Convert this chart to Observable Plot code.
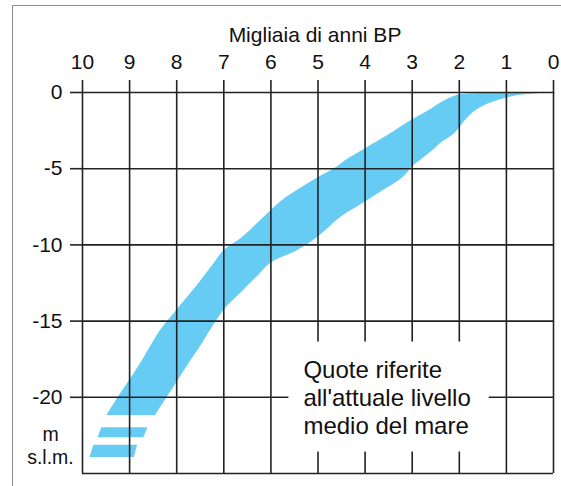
<!DOCTYPE html>
<html>
<head>
<meta charset="utf-8">
<script src="https://cdn.jsdelivr.net/npm/d3@7"></script>
<script src="https://cdn.jsdelivr.net/npm/@observablehq/plot@0.6"></script>
<style>
  html, body { margin: 0; padding: 0; background: #fff; }
  #wrap { position: relative; width: 561px; height: 486px; overflow: hidden; }
  #frame { position: absolute; left: 12px; top: 5px; right: 0; bottom: 0;
           border-left: 1px solid #8c8c8c; border-top: 1px solid #8c8c8c; }
  #chart { position: absolute; left: 0; top: 0; }
</style>
</head>
<body>
<div id="wrap"><div id="frame"></div><div id="chart"></div></div>
<script>
// Thousands of years before present (top axis, read right to left)
const ageTicks = [0, 1, 2, 3, 4, 5, 6, 7, 8, 9, 10];
// Depth in metres relative to present mean sea level
const depthTicks = [0, -5, -10, -15, -20];
const depthBottom = -25;

// Sea-level band: at each depth, the older (shallow) edge and the younger (deep) edge
const bandDepth   = [0, -0.05, -0.1, -0.2, -0.7, -1.2, -1.8, -2.7, -3.3, -3.7, -4.4, -4.9, -5.6, -6.55, -7.2, -8.2, -9.5, -10.4, -11.2, -12.0, -13.0, -14.3, -15.6, -16.7, -17.6, -18.8, -20.0, -21.2];
const bandOlder   = [0, 1.0, 1.8, 2.05, 2.4, 2.65, 3.0, 3.46, 3.78, 4.0, 4.38, 4.6, 5.0, 5.5, 5.8, 6.15, 6.6, 7.0, 7.2, 7.4, 7.65, 8.0, 8.34, 8.56, 8.73, 8.98, 9.24, 9.48];
const bandYounger = [0, 0.2, 0.4, 0.75, 1.35, 1.65, 1.86, 2.1, 2.38, 2.52, 2.8, 3.0, 3.2, 3.67, 4.0, 4.52, 5.0, 5.45, 6.0, 6.26, 6.58, 7.0, 7.28, 7.5, 7.7, 7.95, 8.2, 8.45];

// Dashed continuation below the band: two slanted strips
const stripTop           = [-22.0, -23.15];
const stripBottom        = [-22.65, -23.95];
const stripOlderTop      = [9.59, 9.76];
const stripOlderBottom   = [9.67, 9.84];
const stripYoungerTop    = [8.61, 8.83];
const stripYoungerBottom = [8.70, 8.90];

const xTitle = "Migliaia di anni BP";
const unitLabel = "m\ns.l.m.";
const noteText = "Quote riferite\nall'attuale livello\nmedio del mare";
const noteAge = 5.31, noteDepth = -17.4;

const blue = "#66ccf4";
const ink = "#222";
const textInk = "#111";
const font = "'Liberation Sans', Arial, Helvetica, sans-serif";

const band = bandDepth.map((d, i) => ({depth: d, older: bandOlder[i], younger: bandYounger[i]}));
const strips = stripTop.flatMap((t, i) => [
  {strip: i, depth: t, older: stripOlderTop[i], younger: stripYoungerTop[i]},
  {strip: i, depth: stripBottom[i], older: stripOlderBottom[i], younger: stripYoungerBottom[i]}
]);

const chart = Plot.plot({
  width: 561,
  height: 486,
  marginLeft: 82,
  marginRight: 8,
  marginTop: 92,
  marginBottom: 13,
  style: {fontFamily: font, background: "transparent", color: textInk},
  x: {domain: [10, 0], axis: null},
  y: {domain: [depthBottom, 0], axis: null},
  marks: [
    Plot.areaX(band, {y: "depth", x1: "older", x2: "younger", fill: blue, curve: "catmull-rom"}),
    Plot.areaX(strips, {y: "depth", x1: "older", x2: "younger", z: "strip", fill: blue}),
    Plot.ruleX(ageTicks, {stroke: ink, strokeWidth: 1.6}),
    Plot.ruleY([...depthTicks, depthBottom], {stroke: ink, strokeWidth: 1.6}),
    Plot.axisX({anchor: "top", ticks: ageTicks, tickSize: 13, tickPadding: 11, fontSize: 21,
                stroke: ink, strokeWidth: 1.6, label: null, tickFormat: d => String(d)}),
    Plot.axisY({anchor: "left", ticks: depthTicks, tickSize: 12, tickPadding: 8, fontSize: 21,
                stroke: ink, strokeWidth: 1.6, label: null, tickFormat: d => String(d)}),
    Plot.text([xTitle], {frameAnchor: "top", lineAnchor: "bottom", dy: -51, dx: -3,
                         fontSize: 21, fill: textInk}),
    Plot.text([unitLabel], {frameAnchor: "bottom-left", lineAnchor: "bottom", textAnchor: "middle",
                            dx: -32, dy: -10, fontSize: 19.5, lineHeight: 23 / 19.5, fill: textInk}),
    Plot.text([noteText], {x: () => noteAge, y: () => noteDepth, textAnchor: "start", lineAnchor: "top",
                           fontSize: 24, lineHeight: 28 / 24, fill: textInk})
  ]
});

document.getElementById("chart").append(chart);

// White panel behind the note so the grid stops around it
const note = Array.from(chart.querySelectorAll("text"))
  .find(t => t.textContent.startsWith("Quote"));
if (note) {
  const b = note.getBBox();
  const pad = {l: 15, t: 14, r: 18, b: 13};
  const rect = document.createElementNS("http://www.w3.org/2000/svg", "rect");
  rect.setAttribute("x", b.x - pad.l);
  rect.setAttribute("y", b.y - pad.t);
  rect.setAttribute("width", b.width + pad.l + pad.r);
  rect.setAttribute("height", b.height + pad.t + pad.b);
  rect.setAttribute("fill", "#fff");
  rect.setAttribute("stroke", "none");
  const tf = note.getAttribute("transform");
  if (tf) rect.setAttribute("transform", tf);
  note.parentNode.insertBefore(rect, note);
}
</script>
</body>
</html>
